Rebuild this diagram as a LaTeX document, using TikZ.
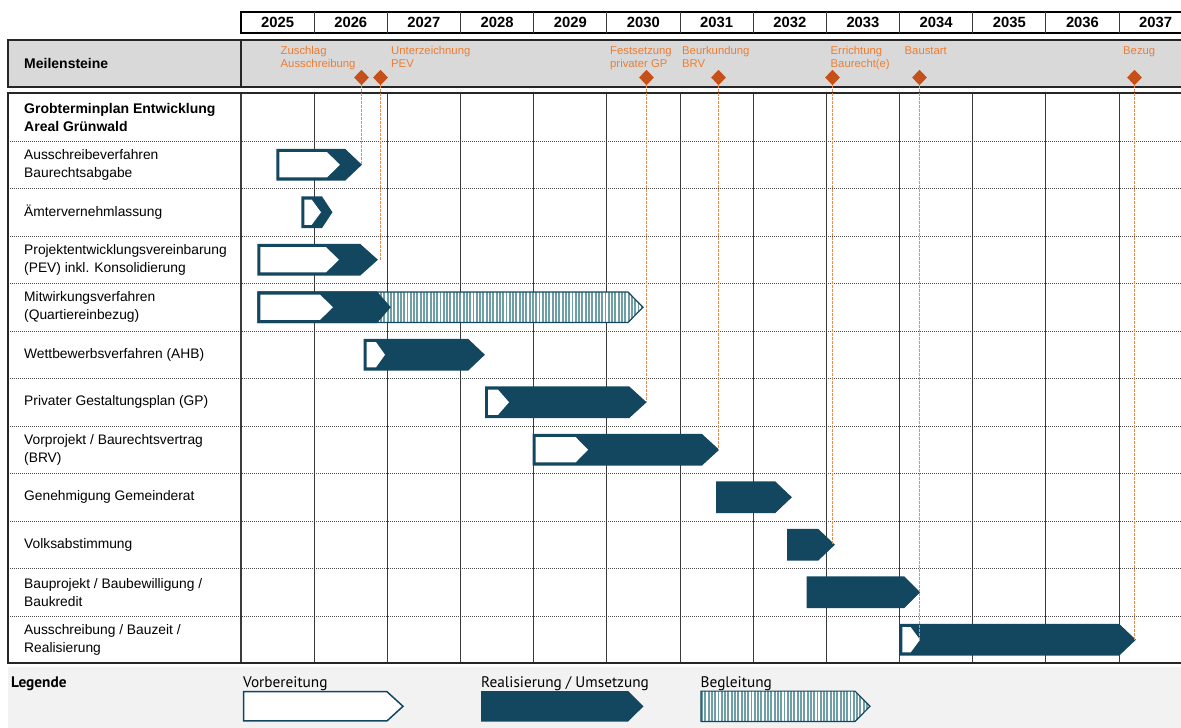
\documentclass[tikz,border=0pt]{standalone}
\usepackage{fontspec}
\setmainfont{Liberation Sans}
\newfontfamily\legfont{PT Sans}
\usetikzlibrary{shapes.geometric}
\definecolor{dteal}{HTML}{12475F}
\definecolor{hteal}{HTML}{6E9FA6}
\definecolor{otext}{HTML}{ED7D31}
\definecolor{odia}{HTML}{C5501A}
\definecolor{odash}{HTML}{F08848}
\definecolor{bandgray}{HTML}{D9D9D9}
\definecolor{leggray}{HTML}{F2F2F2}
\definecolor{gridline}{HTML}{3A3A3A}
\newcommand{\pent}[5]{({#1},{#4-#5}) -- ({#2},{#4-#5}) -- ({#3},{#4}) -- ({#2},{#4+#5}) -- ({#1},{#4+#5}) -- cycle}
\newcommand{\darkbar}[4]{\filldraw[dteal,line width=1.2pt] \pent{#1}{#2}{#3}{#4}{15.2};}
\newcommand{\whitepart}[4]{\fill[white] \pent{#1+2.4}{#2}{#3}{#4}{12.6};}
\newcommand{\hatchbar}[4]{%
  \begin{scope}
    \clip \pent{#1}{#2}{#3}{#4}{15.2};
    \fill[white] ({#1-5},{#4-20}) rectangle ({#3+5},{#4+20});
    \foreach \i in {0,...,140} \draw[hteal,line width=1.9pt] ({#1+1+\i*3.3},{#4-20}) -- ++(0,40);
  \end{scope}
  \draw[dteal,line width=1.2pt] \pent{#1}{#2}{#3}{#4}{15.2};}
\tikzset{
  yearlbl/.style={font=\fontsize{14.8}{16}\selectfont\bfseries, inner sep=0},
  rowlbl/.style={font=\fontsize{13.8}{18}\selectfont, anchor=west, align=left, inner sep=0},
  mslbl/.style={font=\fontsize{11.3}{12.8}\selectfont, text=otext, anchor=north west, align=left, inner sep=0},
  msdia/.style={shape=diamond, fill=odia, inner sep=0, minimum width=15pt, minimum height=15.5pt},
  msline/.style={odash, line width=1pt, dash pattern=on 2.5pt off 1.5pt},
  gridv/.style={gridline, line width=1pt},
  rowsep/.style={black!70, line width=1pt, dash pattern=on 1pt off 1pt},
  legtxt/.style={font=\legfont\fontsize{15.3}{17}\selectfont, anchor=base west, inner sep=0},
}
\begin{document}
\begin{tikzpicture}[x=1pt,y=-1pt]
\useasboundingbox (0,0) rectangle (1181,728);
\clip (0,0) rectangle (1181,728);
% year header
\draw[black, line width=1.5pt] (241,12) rectangle (1195,33);
\foreach \i in {1,...,12} {
  \pgfmathsetmacro{\xx}{floor(241+\i*73.17)+0.5}
  \draw[gridv] (\xx,12) -- (\xx,33);}
\foreach \yr [count=\i from 0] in {2025,...,2037}
  \node[yearlbl] (y\yr) at ({241+36.6+\i*73.17},22.8) {\yr};
% milestone band
\filldraw[fill=bandgray, draw=black!85, line width=1.5pt] (8,40) rectangle (1195,87);
\draw[black!85, line width=1.2pt] (241,40) -- (241,87);
\node[font=\fontsize{14}{16}\selectfont\bfseries, anchor=west, inner sep=0] (mst) at (24,63.5) {Meilensteine};
% legend band
\fill[leggray] (8,667) rectangle (1195,728);
% table rows
\foreach \k in {0,...,10} {
  \pgfmathsetmacro{\yy}{floor(141+\k*47.5)+0.5}
  \draw[rowsep] (8,\yy) -- (1195,\yy);}
\foreach \i in {1,...,12} {
  \pgfmathsetmacro{\xx}{floor(241+\i*73.17)+0.5}
  \draw[gridv] (\xx,93) -- (\xx,663);}
\draw[gridline, line width=1.2pt] (241,93) -- (241,663);
\draw[black!85, line width=1.5pt] (8,93) rectangle (1195,663);
% labels
\node[rowlbl, font=\fontsize{14}{18.4}\selectfont\bfseries] (hdr) at (24,117.5) {Grobterminplan Entwicklung\\Areal Grünwald};
\node[rowlbl] (r1) at (24,164.75) {Ausschreibeverfahren\\Baurechtsabgabe};
\node[rowlbl] (r2) at (24,212.25) {Ämtervernehmlassung};
\node[rowlbl] (r3) at (24,259.75) {Projektentwicklungsvereinbarung\\(PEV) inkl. Konsolidierung};
\node[rowlbl] (r4) at (24,307.25) {Mitwirkungsverfahren\\(Quartiereinbezug)};
\node[rowlbl] (r5) at (24,354.75) {Wettbewerbsverfahren (AHB)};
\node[rowlbl] (r6) at (24,402.25) {Privater Gestaltungsplan (GP)};
\node[rowlbl] (r7) at (24,449.75) {Vorprojekt / Baurechtsvertrag\\(BRV)};
\node[rowlbl] (r8) at (24,497.25) {Genehmigung Gemeinderat};
\node[rowlbl] (r9) at (24,544.75) {Volksabstimmung};
\node[rowlbl] (r10) at (24,592.25) {Bauprojekt / Baubewilligung /\\Baukredit};
\node[rowlbl] (r11) at (24,639.75) {Ausschreibung / Bauzeit /\\Realisierung};
% bars
\darkbar{277}{345}{361}{164.75}\whitepart{277}{327}{340}{164.75}
\darkbar{302}{321.7}{331.7}{212.25}\whitepart{302}{311.7}{321}{212.25}
\darkbar{258}{360}{377}{259.75}\whitepart{258}{326}{339}{259.75}
\hatchbar{258}{628}{643}{307.25}
\darkbar{258}{376.7}{390}{307.25}\whitepart{258}{320}{333}{307.25}
\darkbar{364.3}{468}{484}{354.75}\whitepart{364.3}{376}{385}{354.75}
\darkbar{485.7}{629}{645.7}{402.25}\whitepart{485.7}{498}{509}{402.25}
\darkbar{533.3}{701.7}{718.3}{449.75}\whitepart{533.3}{575.7}{588}{449.75}
\darkbar{716.7}{775}{791}{497.25}
\darkbar{787.7}{818}{834}{544.75}
\darkbar{807.3}{904}{919.3}{592.25}
\darkbar{900}{1119}{1135}{639.75}\whitepart{900}{910.7}{920}{639.75}
% bar tips
\coordinate (t1) at (361,164.75);
\coordinate (t3) at (377,259.75);
\coordinate (t6) at (645.7,402.25);
\coordinate (t7) at (718.3,449.75);
\coordinate (t9) at (834,544.75);
\coordinate (t11w) at (920,639.75);
\coordinate (t11) at (1135,639.75);
% milestones
\node[msdia] (m1) at (361.5,77.5) {};
\node[msdia] (m2) at (380.5,77.5) {};
\node[msdia] (m3) at (646.5,77.5) {};
\node[msdia] (m4) at (718.5,77.5) {};
\node[msdia] (m5) at (832.5,77.5) {};
\node[msdia] (m6) at (919.5,77.5) {};
\node[msdia] (m7) at (1134.5,77.5) {};
\draw[msline] (m1.south) -- (m1 |- t1);
\draw[msline] (m2.south) -- (m2 |- t3);
\draw[msline] (m3.south) -- (m3 |- t6);
\draw[msline] (m4.south) -- (m4 |- t7);
\draw[msline] (m5.south) -- (m5 |- t9);
\draw[msline] (m6.south) -- (m6 |- t11w);
\draw[msline] (m7.south) -- (m7 |- t11);
\node[mslbl] (l1) at (280.5,46.5) {Zuschlag\\Ausschreibung};
\node[mslbl] (l2) at (391,46.5) {Unterzeichnung\\PEV};
\node[mslbl] (l3) at (610,46.5) {Festsetzung\\privater GP};
\node[mslbl] (l4) at (682,46.5) {Beurkundung\\BRV};
\node[mslbl] (l5) at (830.5,46.5) {Errichtung\\Baurecht(e)};
\node[mslbl] (l6) at (904.5,46.5) {Baustart};
\node[mslbl] (l7) at (1123,46.5) {Bezug};
% legend
\node[legtxt, font=\legfont\fontsize{15.3}{17}\selectfont\bfseries] (leg) at (11,687) {Legende};
\node[legtxt] (lv) at (243,687) {Vorbereitung};
\node[legtxt] (lr) at (481,687) {Realisierung / Umsetzung};
\node[legtxt] (lb) at (700.5,687) {Begleitung};
\filldraw[fill=white, draw=dteal, line width=1.5pt] \pent{243.5}{387}{403}{706.3}{14.6};
\fill[dteal] \pent{481}{628}{643.5}{706.3}{15.3};
\hatchbar{701}{855}{870}{706.3}
\end{tikzpicture}
\end{document}
